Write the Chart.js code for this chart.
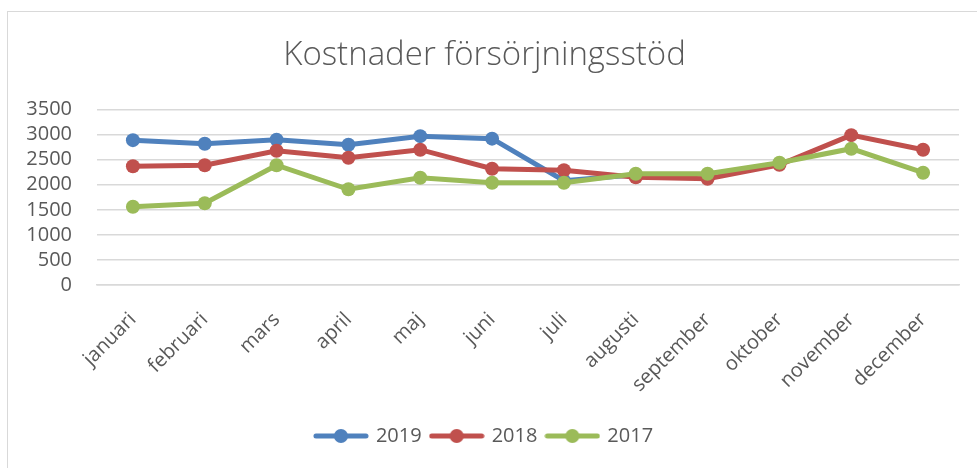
<!DOCTYPE html>
<html>
<head>
<meta charset="utf-8">
<script src="https://cdn.jsdelivr.net/npm/chart.js@4"></script>
<style>
    body { margin: 0; background: #fff; overflow: hidden; }
    #frame {
        position: absolute; left: 7px; top: 11px;
        width: 990px; height: 480px;
        border: 1.5px solid #d9d9d9;
    }
    #wrap { position: absolute; left: 0; top: 0; width: 977px; height: 468px; }
</style>
</head>
<body>
<div id="frame"></div>
<div id="wrap"><canvas id="lineChart"></canvas></div>
<script>
const months = ["januari", "februari", "mars", "april", "maj", "juni",
    "juli", "augusti", "september", "oktober", "november", "december"];

const cost2019 = [2890, 2820, 2900, 2800, 2970, 2920, 2080, 2200];
const cost2018 = [2370, 2390, 2680, 2540, 2700, 2320, 2290, 2150, 2120, 2400, 2990, 2700];
const cost2017 = [1560, 1630, 2390, 1910, 2140, 2040, 2040, 2220, 2220, 2440, 2720, 2240];

const yTicks = [0, 500, 1000, 1500, 2000, 2500, 3000, 3500];

const textColor = "#595959";
const font = "'Open Sans', sans-serif";

/* legend symbol: short line with a dot in the middle */
function legendIcon(color) {
    let c = document.createElement("canvas");
    c.width = 56;
    c.height = 16;
    let g = c.getContext("2d");
    g.strokeStyle = color;
    g.lineWidth = 5;
    g.lineCap = "round";
    g.beginPath();
    g.moveTo(3, 8);
    g.lineTo(53, 8);
    g.stroke();
    g.fillStyle = color;
    g.beginPath();
    g.arc(28, 8, 7, 0, Math.PI * 2);
    g.fill();
    return c;
}

function series(label, data, color, order) {
    return {
        label: label,
        data: data,
        borderColor: color,
        backgroundColor: color,
        borderWidth: 5,
        pointRadius: 7,
        pointHoverRadius: 7,
        pointBorderWidth: 0,
        tension: 0,
        order: order,
        icon: legendIcon(color)
    };
}

let ctx = document.getElementById("lineChart").getContext("2d");

new Chart(ctx, {
    type: "line",
    data: {
        labels: months,
        datasets: [
            series("2019", cost2019, "#4f81bd", 3),
            series("2018", cost2018, "#c0504d", 2),
            series("2017", cost2017, "#9bbb59", 1)
        ]
    },
    options: {
        responsive: true,
        maintainAspectRatio: false,
        animation: false,
        layout: { padding: { top: 12, left: 10, right: 18, bottom: 12 } },
        plugins: {
            title: {
                display: true,
                text: "Kostnader försörjningsstöd",
                color: textColor,
                font: { family: font, size: 33, weight: 300 },
                padding: { top: 24, bottom: 34 }
            },
            legend: {
                position: "bottom",
                labels: {
                    usePointStyle: true,
                    pointStyleWidth: 50,
                    padding: 10,
                    color: textColor,
                    font: { family: font, size: 20 },
                    generateLabels: chart => chart.data.datasets.map((d, i) => ({
                        text: d.label,
                        pointStyle: d.icon,
                        fontColor: textColor,
                        datasetIndex: i,
                        hidden: false,
                        lineWidth: 0
                    }))
                }
            },
            tooltip: { enabled: false }
        },
        scales: {
            x: {
                offset: true,
                grid: { display: false, drawTicks: false },
                border: { color: "#d9d9d9", width: 1.5 },
                ticks: {
                    color: textColor,
                    font: { family: font, size: 20 },
                    minRotation: 45,
                    maxRotation: 45,
                    autoSkip: false,
                    padding: 23
                },
                afterFit: scale => { scale.height = 131; }
            },
            y: {
                min: yTicks[0],
                max: yTicks[yTicks.length - 1],
                afterBuildTicks: scale => {
                    scale.ticks = yTicks.map(v => ({ value: v }));
                },
                grid: { color: "#d9d9d9", lineWidth: 1.5, drawTicks: false },
                border: { display: false },
                ticks: {
                    autoSkip: false,
                    color: textColor,
                    font: { family: font, size: 20, lineHeight: 1 },
                    padding: 25,
                    callback: v => String(v)
                },
                afterFit: scale => { scale.width = 87; }
            }
        }
    }
});
</script>
</body>
</html>
